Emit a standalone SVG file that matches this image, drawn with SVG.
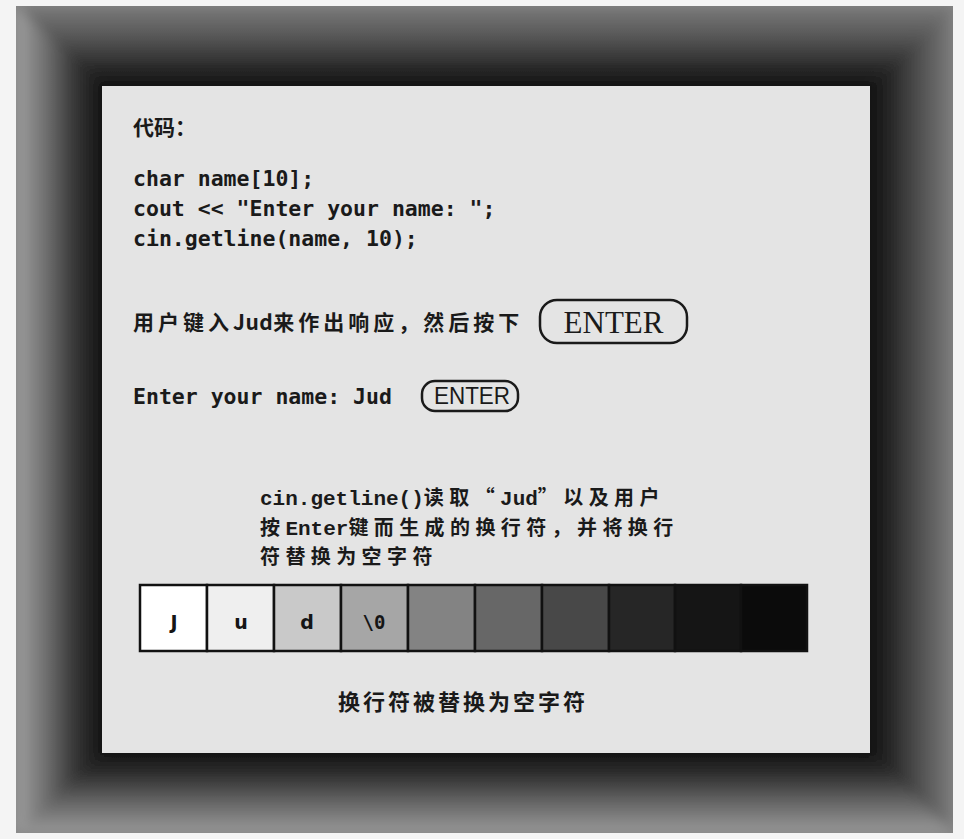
<svg xmlns="http://www.w3.org/2000/svg" width="964" height="839" viewBox="0 0 964 839">
  <defs>
    <linearGradient id="gLeft" gradientUnits="userSpaceOnUse" x1="16" y1="0" x2="102" y2="0">
      <stop offset="0" stop-color="#a0a0a0"/>
      <stop offset="0.35" stop-color="#6e6e6e"/>
      <stop offset="0.7" stop-color="#333"/>
      <stop offset="1" stop-color="#151515"/>
    </linearGradient>
    <linearGradient id="gTop" gradientUnits="userSpaceOnUse" x1="0" y1="6" x2="0" y2="86">
      <stop offset="0" stop-color="#7a7a7a"/>
      <stop offset="0.4" stop-color="#555"/>
      <stop offset="0.75" stop-color="#2a2a2a"/>
      <stop offset="1" stop-color="#131313"/>
    </linearGradient>
    <linearGradient id="gRight" gradientUnits="userSpaceOnUse" x1="953" y1="0" x2="870" y2="0">
      <stop offset="0" stop-color="#7c7c7c"/>
      <stop offset="0.4" stop-color="#505050"/>
      <stop offset="0.75" stop-color="#272727"/>
      <stop offset="1" stop-color="#121212"/>
    </linearGradient>
    <linearGradient id="gBottom" gradientUnits="userSpaceOnUse" x1="0" y1="833" x2="0" y2="753">
      <stop offset="0" stop-color="#9a9a9a"/>
      <stop offset="0.4" stop-color="#636363"/>
      <stop offset="0.75" stop-color="#2c2c2c"/>
      <stop offset="1" stop-color="#141414"/>
    </linearGradient>
    <clipPath id="frameClip">
      <rect x="16" y="6" width="937" height="827"/>
    </clipPath>
    <filter id="smooth" x="-5%" y="-5%" width="110%" height="110%">
      <feGaussianBlur stdDeviation="6"/>
    </filter>
    <style>
      .mono { font-family: "DejaVu Sans Mono", "Liberation Mono", monospace; font-weight: bold; font-size: 21.5px; fill: #1a1a1a; }
      .cjk { font-family: "Noto Sans CJK SC", "Noto Sans CJK JP", sans-serif; font-weight: bold; font-size: 20px; fill: #1a1a1a; }
      .ex { letter-spacing: 5.4px; }
      .tt { font-family: "Liberation Mono", "DejaVu Sans Mono", monospace; font-weight: bold; font-size: 21px; letter-spacing: 0; }
      .cell { stroke: #111; stroke-width: 2.5; }
      .cellTxt { font-family: "DejaVu Sans", sans-serif; font-weight: bold; font-size: 19px; fill: #151515; text-anchor: middle; }
      .key { fill: none; stroke: #1a1a1a; stroke-width: 2.5; }
    </style>
  </defs>

  <rect x="0" y="0" width="964" height="839" fill="#f4f4f4"/>

  <g id="frame">
    <g clip-path="url(#frameClip)">
      <rect x="16" y="6" width="937" height="827" fill="#858585"/>
      <g filter="url(#smooth)">
        <polygon points="16,6 102,86 102,753 16,833" fill="url(#gLeft)"/>
        <polygon points="16,6 953,6 870,86 102,86" fill="url(#gTop)"/>
        <polygon points="953,6 953,833 870,753 870,86" fill="url(#gRight)"/>
        <polygon points="16,833 953,833 870,753 102,753" fill="url(#gBottom)"/>
        <rect x="102" y="86" width="768" height="667" fill="#111"/>
      </g>
    </g>
    <rect x="101" y="85" width="770" height="669" fill="none" stroke="#151515" stroke-width="2"/>
    <rect id="panel" x="102" y="86" width="768" height="667" fill="#e4e4e4"/>
  </g>

  <g id="code">
    <text class="cjk" x="133" y="135" style="font-size:21px">代码：</text>
    <text class="mono" x="133" y="186">char name[10];</text>
    <text class="mono" x="133" y="216">cout &lt;&lt; "Enter your name: ";</text>
    <text class="mono" x="133" y="246">cin.getline(name, 10);</text>
  </g>

  <g id="prompt">
    <text class="cjk" x="133" y="330" style="font-size:21px; letter-spacing:4px">用户键入<tspan style="letter-spacing:0.5px">Jud</tspan>来作出响应，然后按下</text>
    <g id="enterKeyBig">
      <rect class="key" x="540" y="300" width="147" height="43" rx="17"/>
      <text x="613.5" y="333" text-anchor="middle" font-family="Liberation Serif, serif" font-size="31" fill="#1a1a1a">ENTER</text>
    </g>
  </g>

  <g id="input">
    <text class="mono" x="133" y="404">Enter your name: Jud</text>
    <g id="enterKeySmall">
      <rect class="key" x="422" y="381" width="96" height="30" rx="13"/>
      <text x="472" y="404" text-anchor="middle" font-family="Liberation Sans, sans-serif" font-size="23" textLength="76" lengthAdjust="spacingAndGlyphs" fill="#1a1a1a">ENTER</text>
    </g>
  </g>

  <g id="explanation">
    <text class="cjk ex" x="260" y="505"><tspan class="tt">cin.getline()</tspan>读取“<tspan class="tt">Jud</tspan>”以及用户</text>
    <text class="cjk ex" x="260" y="534.5">按<tspan class="tt">Enter</tspan>键而生成的换行符，并将换行</text>
    <text class="cjk ex" x="260" y="564">符替换为空字符</text>
  </g>

  <g id="array">
    <rect class="cell" x="140" y="585" width="67" height="66" fill="#ffffff"/>
    <rect class="cell" x="207" y="585" width="67" height="66" fill="#efefef"/>
    <rect class="cell" x="274" y="585" width="67" height="66" fill="#c9c9c9"/>
    <rect class="cell" x="341" y="585" width="67" height="66" fill="#a6a6a6"/>
    <rect class="cell" x="408" y="585" width="67" height="66" fill="#838383"/>
    <rect class="cell" x="475" y="585" width="67" height="66" fill="#676767"/>
    <rect class="cell" x="542" y="585" width="67" height="66" fill="#484848"/>
    <rect class="cell" x="609" y="585" width="66" height="66" fill="#262626"/>
    <rect class="cell" x="675" y="585" width="66" height="66" fill="#151515"/>
    <rect class="cell" x="741" y="585" width="66" height="66" fill="#0b0b0b"/>
    <text class="cellTxt" x="174" y="629">J</text>
    <text class="cellTxt" x="241" y="629">u</text>
    <text class="cellTxt" x="307" y="629">d</text>
    <text class="cellTxt" x="374" y="629" style="font-family:'DejaVu Sans Mono', monospace">\0</text>
  </g>

  <g id="caption">
    <text class="cjk" x="338" y="710" style="font-size:22px; letter-spacing:3px">换行符被替换为空字符</text>
  </g>
</svg>
